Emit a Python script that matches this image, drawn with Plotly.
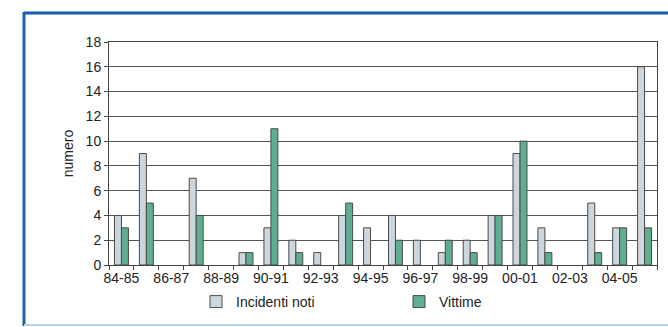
import plotly.graph_objects as go

# Stagioni e conteggi
seasons = ["84-85", "85-86", "86-87", "87-88", "88-89", "89-90", "90-91", "91-92",
           "92-93", "93-94", "94-95", "95-96", "96-97", "97-98", "98-99", "99-00",
           "00-01", "01-02", "02-03", "03-04", "04-05", "05-06"]
incidenti_noti = [4, 9, 0, 7, 0, 1, 3, 2, 1, 4, 3, 4, 2, 1, 2, 4, 9, 3, 0, 5, 3, 16]
vittime = [3, 5, 0, 4, 0, 1, 11, 1, 0, 5, 0, 2, 0, 2, 1, 4, 10, 1, 0, 1, 3, 3]
tick_labels = [s if i % 2 == 0 else "" for i, s in enumerate(seasons)]
y_ticks = list(range(0, 19, 2))

FONT = "Liberation Sans, Arial, sans-serif"
FS = 14
OUTLINE = "#4a4a4a"


def nonzero(values):
    # a zero count gets no bar (avoids a flat outline on the axis)
    return [v if v else None for v in values]


fig = go.Figure()
fig.add_trace(go.Bar(
    x=seasons, y=nonzero(incidenti_noti), name="Incidenti noti",
    marker=dict(color="#cdd6dc", line=dict(color=OUTLINE, width=1)),
))
fig.add_trace(go.Bar(
    x=seasons, y=nonzero(vittime), name="Vittime",
    marker=dict(color="#5fae92", line=dict(color=OUTLINE, width=1)),
))

L, R, T, B = 109, 11, 42, 62
W, H = 668, 327
pw, ph = W - L - R, H - T - B


def px_x(x):
    return (x - L) / pw


def px_y(y):
    return (H - B - y) / ph


# Cornice blu attorno al grafico
shapes = [
    dict(type="line", xref="paper", yref="paper", x0=px_x(24), x1=px_x(680),
         y0=px_y(13), y1=px_y(13), line=dict(color="#1c5ea8", width=3)),
    dict(type="line", xref="paper", yref="paper", x0=px_x(24), x1=px_x(24),
         y0=px_y(12), y1=px_y(326), line=dict(color="#1c5ea8", width=3)),
    dict(type="line", xref="paper", yref="paper", x0=px_x(24), x1=px_x(680),
         y0=px_y(325), y1=px_y(325), line=dict(color="#b9d1ea", width=2)),
]

fig.update_layout(
    width=W, height=H,
    margin=dict(l=L, r=R, t=T, b=B, autoexpand=False),
    paper_bgcolor="white", plot_bgcolor="white",
    barmode="group", bargap=0.44, bargroupgap=0,
    font=dict(family=FONT, size=FS, color="#222"),
    shapes=shapes,
    legend=dict(
        orientation="h", x=px_x(196), xanchor="left", y=px_y(286), yanchor="top",
        itemwidth=30, entrywidth=158, entrywidthmode="pixels",
        font=dict(family=FONT, size=FS, color="#222"),
        bgcolor="rgba(0,0,0,0)",
    ),
    xaxis=dict(
        type="category", tickmode="array", tickvals=seasons, ticktext=tick_labels,
        tickson="boundaries", ticks="outside", ticklen=4, tickcolor="#444",
        showline=True, linecolor="#444", linewidth=1, mirror=True,
        showgrid=False, tickangle=0,
        tickfont=dict(family=FONT, size=FS, color="#222"),
    ),
    yaxis=dict(
        range=[0, 18], tickvals=y_ticks, ticks="outside", ticklen=4, tickcolor="#444",
        showline=True, linecolor="#444", linewidth=1, mirror=True,
        showgrid=True, gridcolor="#555", gridwidth=1, zeroline=False,
        title=dict(text="numero", standoff=8, font=dict(family=FONT, size=FS, color="#222")),
        tickfont=dict(family=FONT, size=FS, color="#222"),
    ),
)

fig.write_html("out.html")
